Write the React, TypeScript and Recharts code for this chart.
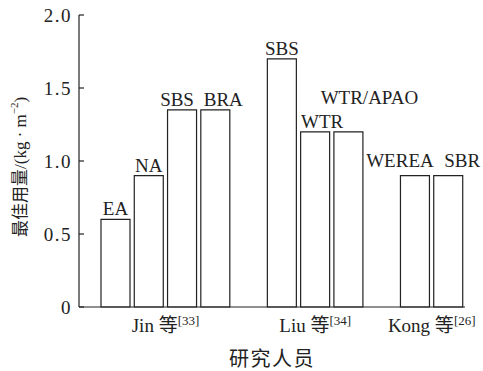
import React from 'react';
import { BarChart, Bar, XAxis, YAxis, LabelList } from 'recharts';

// bars from left to right, '' = empty slot between researcher groups
const categories = ['EA', 'NA', 'SBS', 'BRA', '', 'SBS', 'WTR', 'WTR/APAO', '', 'WEREA', 'SBR'];
const dosage = [0.6, 0.9, 1.35, 1.35, null, 1.7, 1.2, 1.2, null, 0.9, 0.9];
const researcher = ['Jin', 'Jin', 'Jin', 'Jin', null, 'Liu', 'Liu', 'Liu', null, 'Kong', 'Kong'];
const groupNames = ['Jin', 'Liu', 'Kong'];
const groupRefs = ['33', '34', '26'];
const yTicks = [0, 0.5, 1.0, 1.5, 2.0];

const data = categories.map((name, i) => ({ name, value: dosage[i] }));

// labels are indexed over drawn bars only, so map back to the data slot
const drawnSlots = dosage
  .map((v, i) => (v === null ? -1 : i))
  .filter((i) => i >= 0);

// for each group: first slot and how many slots it spans
const groupSpan = groupNames.map((g) => {
  const first = researcher.indexOf(g);
  const count = researcher.filter((r) => r === g).length;
  return { first, count };
});

const FONT = "'Liberation Serif', 'Noto Sans CJK SC', serif";
const INK = '#222';
const PAD_LEFT = 20;
const PLOT_W = 483 - 79 - 18 - PAD_LEFT;

// label nudges so the text doesn't collide (by data slot)
const labelShift: Record<number, { dx: number; dy: number }> = {
  2: { dx: -5, dy: 0 },
  3: { dx: 8, dy: 0 },
  6: { dx: 7, dy: 0 },
  7: { dx: 21, dy: -24 },
  9: { dx: -15, dy: -5 },
  10: { dx: 14, dy: -5 }
};

const renderBarLabel = (props: any) => {
  const { index, value } = props;
  if (value === null || value === undefined) return null;
  const vb = props.viewBox ?? props;
  const slot = drawnSlots[index];
  const s = labelShift[slot] ?? { dx: 0, dy: 0 };
  return (
    <text
      x={vb.x + vb.width / 2 + s.dx}
      y={vb.y - 4 + s.dy}
      textAnchor="middle"
      fontFamily={FONT}
      fontSize={19}
      fill={INK}
    >
      {categories[slot]}
    </text>
  );
};

// one label per researcher group, centred under its bars
const GroupTick = (props: any) => {
  const { x, y, index, payload } = props;
  const gi = groupSpan.findIndex((g) => g.first === index);
  if (gi < 0) return null;
  const band = payload?.offset ? payload.offset * 2 : PLOT_W / categories.length;
  const cx = x + ((groupSpan[gi].count - 1) / 2) * band;
  return (
    <text x={cx} y={y + 25} textAnchor="middle" fontFamily={FONT} fontSize={19} fill={INK}>
      <tspan>{groupNames[gi]} 等</tspan>
      <tspan dy={-7} fontSize={13}>[{groupRefs[gi]}]</tspan>
    </text>
  );
};

// rotated title, starting at the bottom and running upward
const renderYLabel = () => (
  <text
    x={20}
    y={237}
    transform="rotate(-90, 20, 237)"
    textAnchor="start"
    dominantBaseline="central"
    fontFamily={FONT}
    fontSize={17}
    fill={INK}
  >
    <tspan>最佳用量/(kg · m</tspan>
    <tspan dy={-6} fontSize={11}>−2</tspan>
    <tspan dy={6}>)</tspan>
  </text>
);

export default function App() {
  return (
    <div style={{ position: 'absolute', left: 0, top: 0 }}>
      <BarChart
        width={483}
        height={371}
        data={data}
        margin={{ top: 15, right: 18, bottom: 0, left: 0 }}
        barSize={29}
      >
        <XAxis
          dataKey="name"
          height={64}
          interval={0}
          tickLine={false}
          tickSize={0}
          tickMargin={0}
          tick={<GroupTick />}
          axisLine={{ stroke: INK, strokeWidth: 1.2 }}
          padding={{ left: PAD_LEFT, right: 0 }}
          label={{
            value: '研究人员',
            position: 'insideBottom',
            offset: 5,
            fontFamily: FONT,
            fontSize: 20,
            letterSpacing: 1.5,
            fill: INK
          }}
        />
        <YAxis
          width={79}
          domain={[0, 2]}
          ticks={yTicks}
          interval={0}
          tickFormatter={(v: number) => (v === 0 ? '0' : v.toFixed(1))}
          tickSize={-5}
          tickMargin={12}
          axisLine={{ stroke: INK, strokeWidth: 1.2 }}
          tickLine={{ stroke: INK, strokeWidth: 1.2 }}
          tick={{ fontFamily: FONT, fontSize: 19, fill: INK, letterSpacing: 1.5 }}
          label={{ content: renderYLabel }}
        />
        <Bar
          dataKey="value"
          fill="#fff"
          stroke={INK}
          strokeWidth={1.2}
          isAnimationActive={false}
        >
          <LabelList dataKey="value" content={renderBarLabel} />
        </Bar>
      </BarChart>
    </div>
  );
}
